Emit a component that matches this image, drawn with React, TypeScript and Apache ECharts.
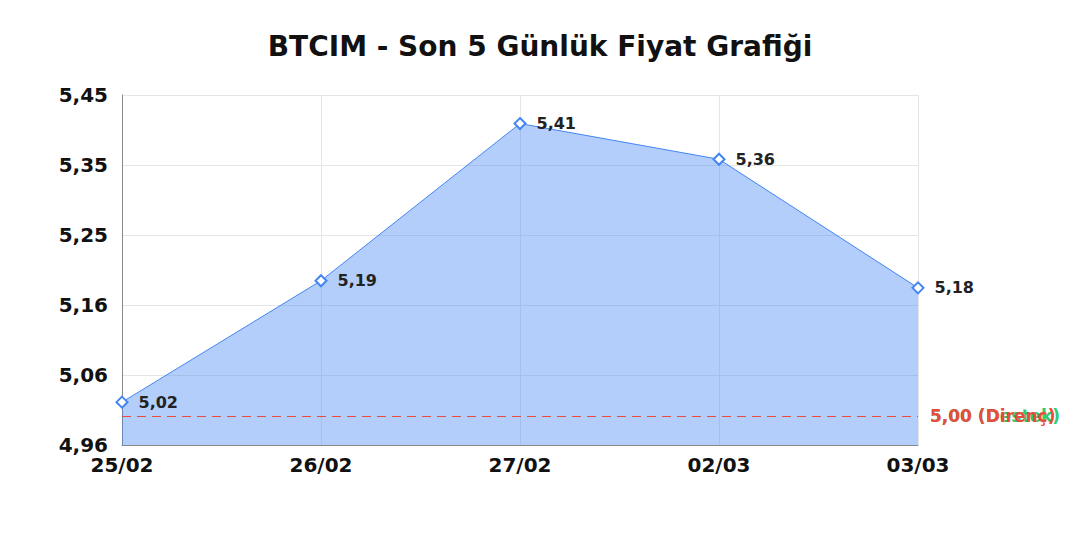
import { useEffect, useRef } from "react";
import * as echarts from "echarts";

const dates = ["25/02", "26/02", "27/02", "02/03", "03/03"];
const prices = [5.02, 5.19, 5.41, 5.36, 5.18];
const support = 5.0;
const resistance = 5.0;
const yMin = 4.96;
const yMax = 5.45;

const fmt = (v: number) => v.toFixed(2).replace(".", ",");

export default function App() {
  const chartRef = useRef<HTMLDivElement>(null);

  useEffect(() => {
    document.body.style.margin = "0";
    if (!chartRef.current) return;
    const chart = echarts.init(chartRef.current, null, { renderer: "svg" });

    chart.setOption({
      animation: false,
      textStyle: { fontFamily: "DejaVu Sans" },
      title: {
        text: "BTCIM - Son 5 Günlük Fiyat Grafiği",
        left: "center",
        top: 27,
        textStyle: { fontSize: 28, fontWeight: "bold", color: "#111" },
      },
      grid: { left: 122, right: 162, top: 95, bottom: 95 },
      xAxis: {
        type: "category",
        data: dates,
        boundaryGap: false,
        axisLine: { lineStyle: { color: "#888" } },
        axisTick: { show: false },
        axisLabel: { fontSize: 20, fontWeight: "bold", color: "#111", margin: 10 },
        splitLine: { show: true, lineStyle: { color: "#e6e6e6" } },
      },
      yAxis: {
        type: "value",
        min: yMin,
        max: yMax,
        interval: (yMax - yMin) / 5,
        axisLine: { show: true, lineStyle: { color: "#888" } },
        axisTick: { show: false },
        axisLabel: {
          fontSize: 20,
          fontWeight: "bold",
          color: "#111",
          margin: 14,
          formatter: (v: number) => fmt(v),
        },
        splitLine: { show: true, lineStyle: { color: "#e6e6e6" } },
      },
      series: [
        {
          type: "line",
          data: prices,
          symbol: "diamond",
          symbolSize: 11,
          lineStyle: { color: "#4285f4", width: 1 },
          itemStyle: { color: "#fff", borderColor: "#4285f4", borderWidth: 2 },
          areaStyle: { color: "#4285f4", opacity: 0.4 },
          label: {
            show: true,
            position: "right",
            distance: 10,
            fontSize: 16,
            fontWeight: "bold",
            color: "#222",
            formatter: (p: any) => fmt(p.value),
          },
          markLine: {
            silent: true,
            symbol: "none",
            data: [
              {
                yAxis: support,
                lineStyle: { color: "#2ecc71", type: [9, 6], width: 1 },
                label: {
                  position: "end",
                  distance: 12,
                  formatter: fmt(support) + " (Destek)",
                  color: "#2ecc71",
                  fontSize: 17,
                  fontWeight: "bold",
                },
              },
              {
                yAxis: resistance,
                lineStyle: { color: "#e74c3c", type: [9, 6], width: 1 },
                label: {
                  position: "end",
                  distance: 12,
                  formatter: fmt(resistance) + " (Direnç)",
                  color: "#e74c3c",
                  fontSize: 17,
                  fontWeight: "bold",
                },
              },
            ],
          },
        },
      ],
    });

    const handleResize = () => chart.resize();
    window.addEventListener("resize", handleResize);
    return () => {
      window.removeEventListener("resize", handleResize);
      chart.dispose();
    };
  }, []);

  return <div ref={chartRef} style={{ width: 1080, height: 540 }} />;
}
